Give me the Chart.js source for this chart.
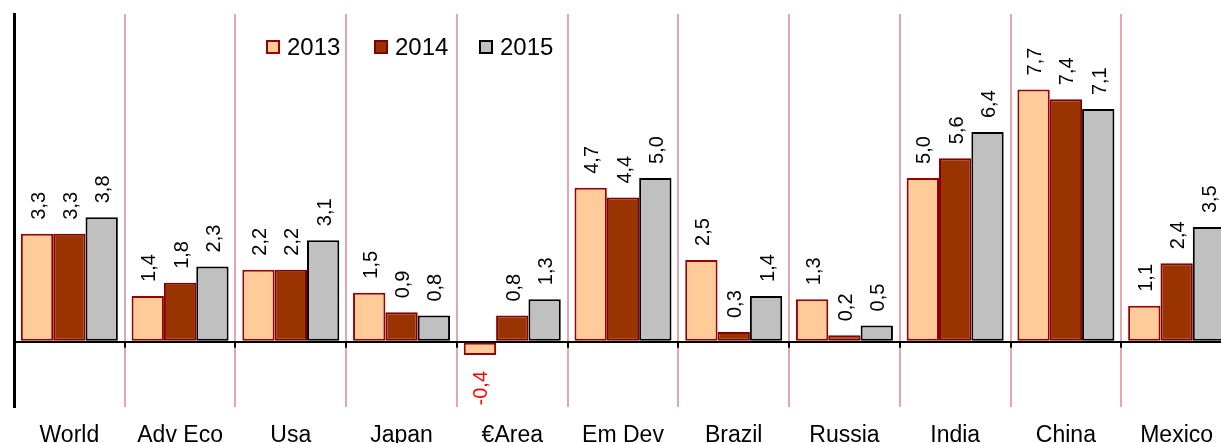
<!DOCTYPE html>
<html>
<head>
<meta charset="utf-8">
<script src="https://cdn.jsdelivr.net/npm/chart.js@4.4.1/dist/chart.umd.min.js"></script>
<style>
  html, body { margin: 0; padding: 0; overflow: hidden; background: #fff; }
  #wrap { width: 1221px; height: 443px; overflow: hidden; }
</style>
</head>
<body>
<div id="wrap"><canvas id="chart" width="1232" height="463"></canvas></div>
<script>
const categories = ["World", "Adv Eco", "Usa", "Japan", "\u20acArea", "Em Dev", "Brazil", "Russia", "India", "China", "Mexico"];
const seriesNames = ["2013", "2014", "2015"];
const values2013 = [3.3, 1.4, 2.2, 1.5, -0.4, 4.7, 2.5, 1.3, 5.0, 7.7, 1.1];
const values2014 = [3.3, 1.8, 2.2, 0.9, 0.8, 4.4, 0.3, 0.2, 5.6, 7.4, 2.4];
const values2015 = [3.8, 2.3, 3.1, 0.8, 1.3, 5.0, 1.4, 0.5, 6.4, 7.1, 3.5];

const FONT = "'Liberation Sans', Arial, sans-serif";

const fills = ["#FFCC99", "#993300", "#C0C0C0"];
const borders = ["#990000", "#800000", "#000000"];

// value labels, rotated, above positive bars / below negative ones
const valueLabels = {
  id: "valueLabels",
  afterDatasetsDraw(chart) {
    const ctx = chart.ctx;
    ctx.save();
    ctx.font = "20px " + FONT;
    chart.data.datasets.forEach((ds, di) => {
      const meta = chart.getDatasetMeta(di);
      meta.data.forEach((bar, i) => {
        const v = ds.data[i];
        const txt = v.toFixed(1).replace(".", ",");
        ctx.save();
        ctx.translate(bar.x + 2, v >= 0 ? bar.y - 14 : bar.y + 16);
        ctx.rotate(-Math.PI / 2);
        ctx.textAlign = v >= 0 ? "left" : "right";
        ctx.textBaseline = "middle";
        ctx.fillStyle = v >= 0 ? "#000" : "#FF0000";
        ctx.fillText(txt, 0, 0);
        ctx.restore();
      });
    });
    ctx.restore();
  }
};

// small black ticks under the zero line + legend inside the plot
const extras = {
  id: "extras",
  afterDraw(chart) {
    const ctx = chart.ctx;
    const x = chart.scales.x, y = chart.scales.y;
    const y0 = y.getPixelForValue(0);
    ctx.save();
    ctx.strokeStyle = "#000";
    ctx.lineWidth = 2;
    for (let i = 0; i <= categories.length; i++) {
      const px = Math.round(x.getPixelForValue(i - 0.5));
      ctx.beginPath();
      ctx.moveTo(px, y0);
      ctx.lineTo(px, y0 + 6);
      ctx.stroke();
    }
    // legend
    const legendX = [267, 375, 480];
    ctx.font = "24px " + FONT;
    ctx.textBaseline = "middle";
    ctx.textAlign = "left";
    chart.data.datasets.forEach((ds, i) => {
      ctx.fillStyle = ds.backgroundColor;
      ctx.fillRect(legendX[i], 41, 12, 12);
      ctx.strokeStyle = ds.borderColor;
      ctx.lineWidth = 2;
      ctx.strokeRect(legendX[i], 41, 12, 12);
      ctx.fillStyle = "#000";
      ctx.fillText(ds.label, legendX[i] + 20, 48);
    });
    ctx.restore();
  }
};

const datasets = [values2013, values2014, values2015].map((vals, i) => ({
  label: seriesNames[i],
  data: vals,
  backgroundColor: fills[i],
  borderColor: borders[i],
  borderWidth: 2,
  borderSkipped: false
}));

new Chart(document.getElementById("chart"), {
  type: "bar",
  data: { labels: categories, datasets: datasets },
  options: {
    responsive: false,
    animation: false,
    devicePixelRatio: 1,
    layout: { padding: { left: 14, top: 14, right: 0, bottom: 0 } },
    datasets: {
      bar: { categoryPercentage: 0.876, barPercentage: 1.0 }
    },
    scales: {
      x: {
        offset: true,
        grid: { offset: true, color: "#E0A8A8", lineWidth: 2, drawTicks: false },
        border: { display: false },
        ticks: {
          color: "#000",
          font: { family: FONT, size: 23 },
          padding: 14,
          maxRotation: 0,
          autoSkip: false
        }
      },
      y: {
        min: -2,
        max: 10,
        ticks: { display: false, stepSize: 1 },
        grid: {
          drawTicks: false,
          color: (c) => (c.tick && c.tick.value === 0 ? "#000" : "rgba(0,0,0,0)"),
          lineWidth: 2
        },
        border: { display: true, color: "#000", width: 3 }
      }
    },
    plugins: {
      legend: { display: false },
      tooltip: { enabled: false }
    }
  },
  plugins: [valueLabels, extras]
});
</script>
</body>
</html>
